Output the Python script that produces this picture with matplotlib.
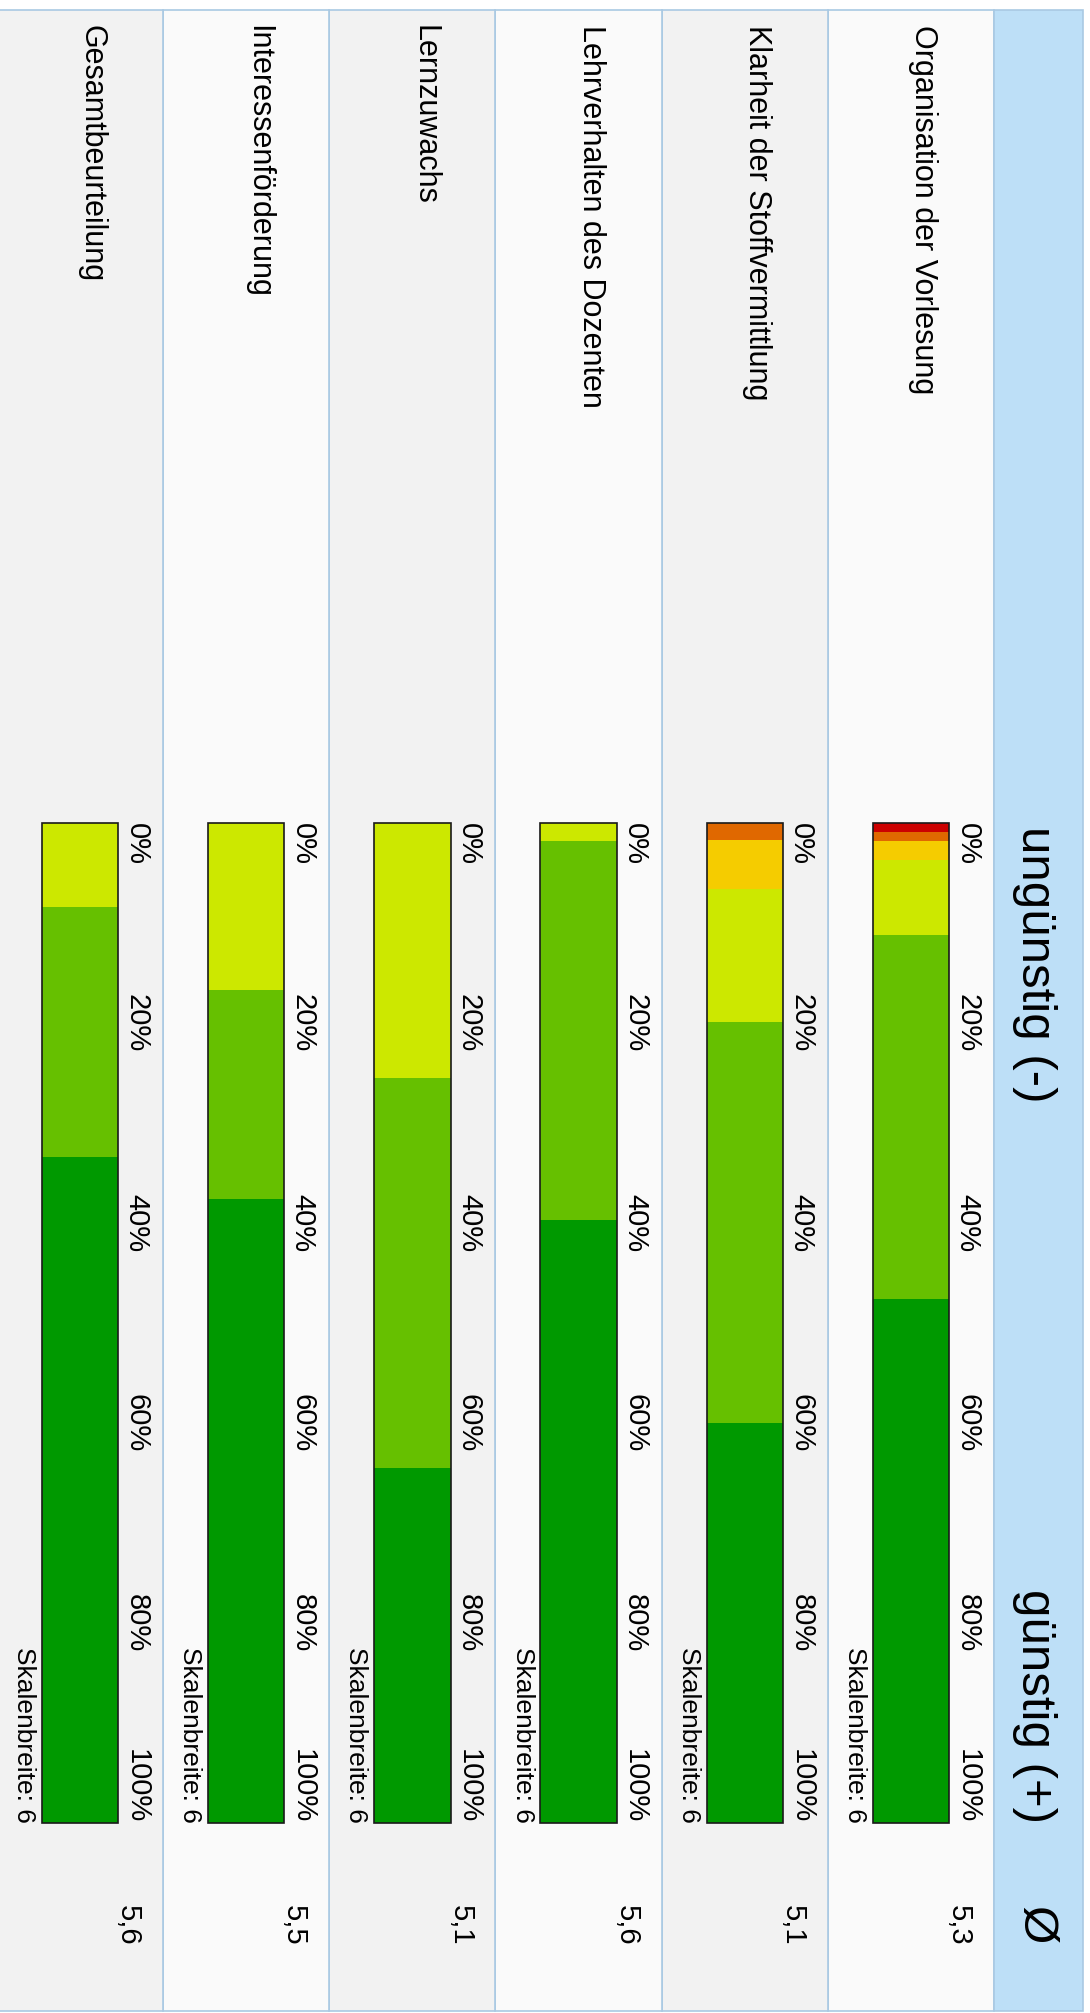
import numpy as np
import matplotlib
matplotlib.use('Agg')
import matplotlib.pyplot as plt
from matplotlib.patches import Rectangle

plt.rcParams['font.family'] = ['Liberation Sans', 'DejaVu Sans']

# Daten: Anteile (%) je Antwortstufe 1 (ungünstig) .. 6 (günstig)
kategorien = ['Organisation der Vorlesung', 'Klarheit der Stoffvermittlung',
              'Lehrverhalten des Dozenten', 'Lernzuwachs',
              'Interessenförderung', 'Gesamtbeurteilung']
stufe1 = [0.9, 0.0, 0.0, 0.0, 0.0, 0.0]
stufe2 = [0.9, 1.7, 0.0, 0.0, 0.0, 0.0]
stufe3 = [1.9, 4.9, 0.0, 0.0, 0.0, 0.0]
stufe4 = [7.5, 13.3, 1.8, 25.5, 16.7, 8.4]
stufe5 = [36.4, 40.1, 37.9, 39.0, 20.9, 25.0]
stufe6 = [52.4, 40.0, 60.3, 35.5, 62.4, 66.6]
mittelwerte = [5.3, 5.1, 5.6, 5.1, 5.5, 5.6]
ticks = [0, 20, 40, 60, 80, 100]

farben = ['#cc0000', '#e06800', '#f5cc00', '#cce800', '#66c000', '#009900']
hintergrund = ['#fafafa', '#f2f2f2']
rand = '#a9c9e3'
kopf = '#bddff7'

fig = plt.figure(figsize=(10.9, 20.13), dpi=100)
ax = fig.add_axes([0, 0, 1, 1])
# x: Zeilenindex (gedreht, rechts = erste Zeile), y: Prozent (nach unten)
ax.set_xlim(5.481, -1.077)
ax.set_ylim(118.97, -82.33)
ax.axis('off')

oben, unten = -81.33, 118.77

# Tabellenhintergrund
for i in range(len(kategorien)):
    ax.add_patch(Rectangle((i - 0.5, oben), 1, unten - oben,
                           facecolor=hintergrund[i % 2], edgecolor=rand, lw=1.2))
ax.add_patch(Rectangle((-1.035, oben), 0.535, unten - oben,
                       facecolor=kopf, edgecolor=rand, lw=1.2))

# Kopfzeile
ax.text(-0.746, 0.3, 'ungünstig (-)', rotation=-90, ha='center', va='top', fontsize=35.5)
ax.text(-0.746, 100, 'günstig (+)', rotation=-90, ha='center', va='bottom', fontsize=35.5)
ax.text(-0.746, 110.17, 'Ø', rotation=-90, ha='center', va='center', fontsize=35.5)

# gestapelte Balken
x = np.arange(len(kategorien))
stufen = [stufe1, stufe2, stufe3, stufe4, stufe5, stufe6]
basis = np.zeros(len(kategorien))
for werte, farbe in zip(stufen, farben):
    werte = np.array(werte)
    ax.bar(x, werte, width=0.46, bottom=basis, color=farbe, linewidth=0)
    basis += werte
ax.bar(x, [100] * len(x), width=0.46, bottom=0, fill=False,
       edgecolor='#1a1a1a', linewidth=1.2)

for i, name in enumerate(kategorien):
    ax.text(i - 0.072, -79.8, name, rotation=-90, ha='center', va='top', fontsize=22)
    for t in ticks:
        va = 'top' if t == 0 else ('bottom' if t == 100 else 'center')
        ax.text(i - 0.34, t, f'{t}%', rotation=-90, ha='center', va=va, fontsize=21)
    ax.text(i + 0.337, 100, 'Skalenbreite: 6', rotation=-90, ha='center',
            va='bottom', fontsize=19)
    ax.text(i - 0.289, 110.17, f'{mittelwerte[i]:.1f}'.replace('.', ','),
            rotation=-90, ha='center', va='center', fontsize=21)

fig.savefig('out.png', dpi=100, facecolor='white')
